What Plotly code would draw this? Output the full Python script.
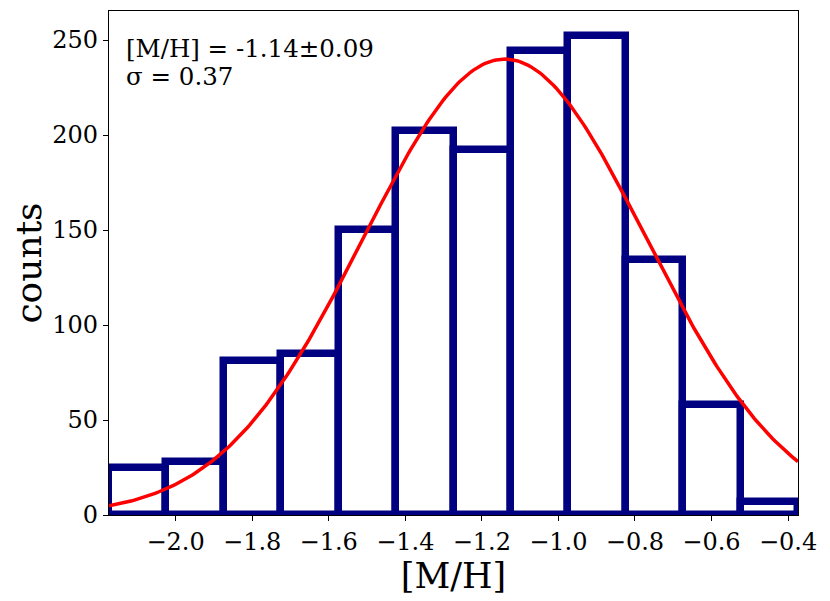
import plotly.graph_objects as go
import numpy as np

# histogram of [M/H]: 12 bins, width 0.15
bin_edges = [-2.174, -2.024, -1.874, -1.724, -1.574, -1.424, -1.274,
             -1.124, -0.974, -0.824, -0.674, -0.524, -0.374]
counts = [25, 28, 81, 85, 150, 202, 192, 244, 252, 134, 58, 7]

# gaussian fit shown in the figure
fit_mu = -1.14
fit_sigma = 0.37
fit_amp = 240.0

x_ticks = [-2.0, -1.8, -1.6, -1.4, -1.2, -1.0, -0.8, -0.6, -0.4]
y_ticks = [0, 50, 100, 150, 200, 250]

FONT = "DejaVu Serif"
NAVY = "#000080"

edges = np.array(bin_edges)
centers = (edges[:-1] + edges[1:]) / 2
widths = np.diff(edges)

fit_x = np.linspace(bin_edges[0], bin_edges[-1], 300)
fit_y = fit_amp * np.exp(-0.5 * ((fit_x - fit_mu) / fit_sigma) ** 2)

fig = go.Figure()
# unfilled bars, outline only
fig.add_trace(go.Bar(
    x=centers, y=counts, width=widths,
    marker=dict(color="rgba(0,0,0,0)", line=dict(color=NAVY, width=7.5)),
    showlegend=False,
))
fig.add_trace(go.Scatter(
    x=fit_x, y=fit_y,
    mode="lines",
    line=dict(color="#ff0000", width=3.5),
    showlegend=False,
))

fig.add_annotation(
    text="[M/H] = -1.14±0.09", xref="paper", yref="paper",
    x=0.022, y=0.925, xanchor="left", yanchor="middle",
    showarrow=False, font=dict(family=FONT, size=24.5, color="black"),
)
fig.add_annotation(
    text="σ = 0.37", xref="paper", yref="paper",
    x=0.022, y=0.871, xanchor="left", yanchor="middle",
    showarrow=False, font=dict(family=FONT, size=24.5, color="black"),
)

axis_common = dict(
    showgrid=False, zeroline=False,
    showline=True, linecolor="black", linewidth=1.3, mirror=True,
    ticks="outside", ticklen=5, tickwidth=1.2, tickcolor="black",
    tickfont=dict(family=FONT, size=24, color="black"),
)

# the page has an 8px body margin, so shift the margins to compensate
fig.update_layout(
    width=830, height=601,
    margin=dict(l=101, r=40, t=3, b=94),
    plot_bgcolor="white",
    paper_bgcolor="white",
    bargap=0,
    xaxis=dict(
        range=[bin_edges[0], bin_edges[-1]],
        tickvals=x_ticks, tickformat=".1f",
        title=dict(text="[M/H]", font=dict(family=FONT, size=35, color="black"),
                   standoff=5),
        **axis_common,
    ),
    yaxis=dict(
        range=[0, 265.3],
        tickvals=y_ticks,
        title=dict(text="counts", font=dict(family=FONT, size=36, color="black"),
                   standoff=8),
        **axis_common,
    ),
)

fig.write_html("out.html")
